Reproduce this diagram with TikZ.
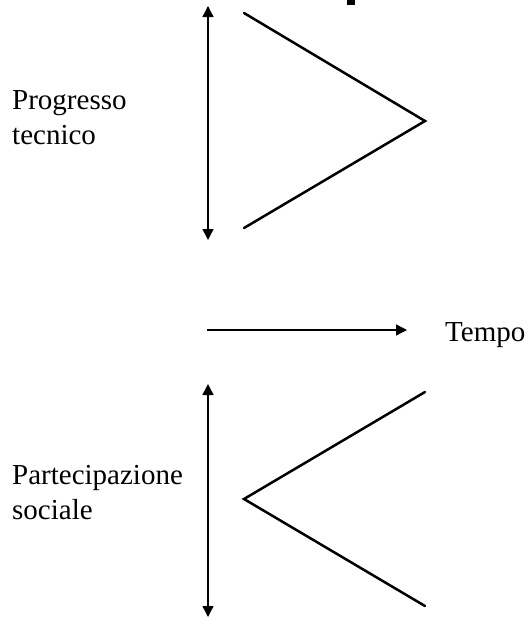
\documentclass[tikz,border=0pt]{standalone}
\usepackage{fontspec}
\setmainfont{Liberation Serif}
\usetikzlibrary{arrows.meta}
\begin{document}
\begin{tikzpicture}[x=1pt,y=-1pt,
  lbl/.style={anchor=base west,inner sep=0pt,font=\fontsize{29}{35}\selectfont},
  axis/.style={line width=1.3pt,-{Triangle[width=11pt,length=11pt]}},
  wedge/.style={line width=2.5pt,line cap=round,line join=miter}]
\useasboundingbox (0,0) rectangle (531,619);
% cut-off glyph at top
\fill (347,0) rectangle (355,5);
% top part
\coordinate (tA) at (208,126);
\coordinate (tTop) at (208,6);
\coordinate (tBot) at (208,240);
\draw[axis] (tA) -- (tTop);
\draw[axis] (tA) -- (tBot);
\coordinate (w1a) at (244,13);
\coordinate (w1b) at (425,121);
\coordinate (w1c) at (244,228);
\draw[wedge] (w1a) -- (w1b) -- (w1c);
\node[lbl] (pt1) at (12,109) {Progresso};
\node[lbl] (pt2) at (12,144) {tecnico};
% time axis
\coordinate (hA) at (207,330);
\coordinate (hB) at (407,330);
\draw[axis] (hA) -- (hB);
\node[lbl] (tempo) at (445,341) {Tempo};
% bottom part
\coordinate (bA) at (208,500);
\coordinate (bTop) at (208,384);
\coordinate (bBot) at (208,617);
\draw[axis] (bA) -- (bTop);
\draw[axis] (bA) -- (bBot);
\coordinate (w2a) at (425,392);
\coordinate (w2b) at (244,499);
\coordinate (w2c) at (425,606);
\draw[wedge] (w2a) -- (w2b) -- (w2c);
\node[lbl] (ps1) at (12,484) {Partecipazione};
\node[lbl] (ps2) at (12,519) {sociale};
\end{tikzpicture}
\end{document}
